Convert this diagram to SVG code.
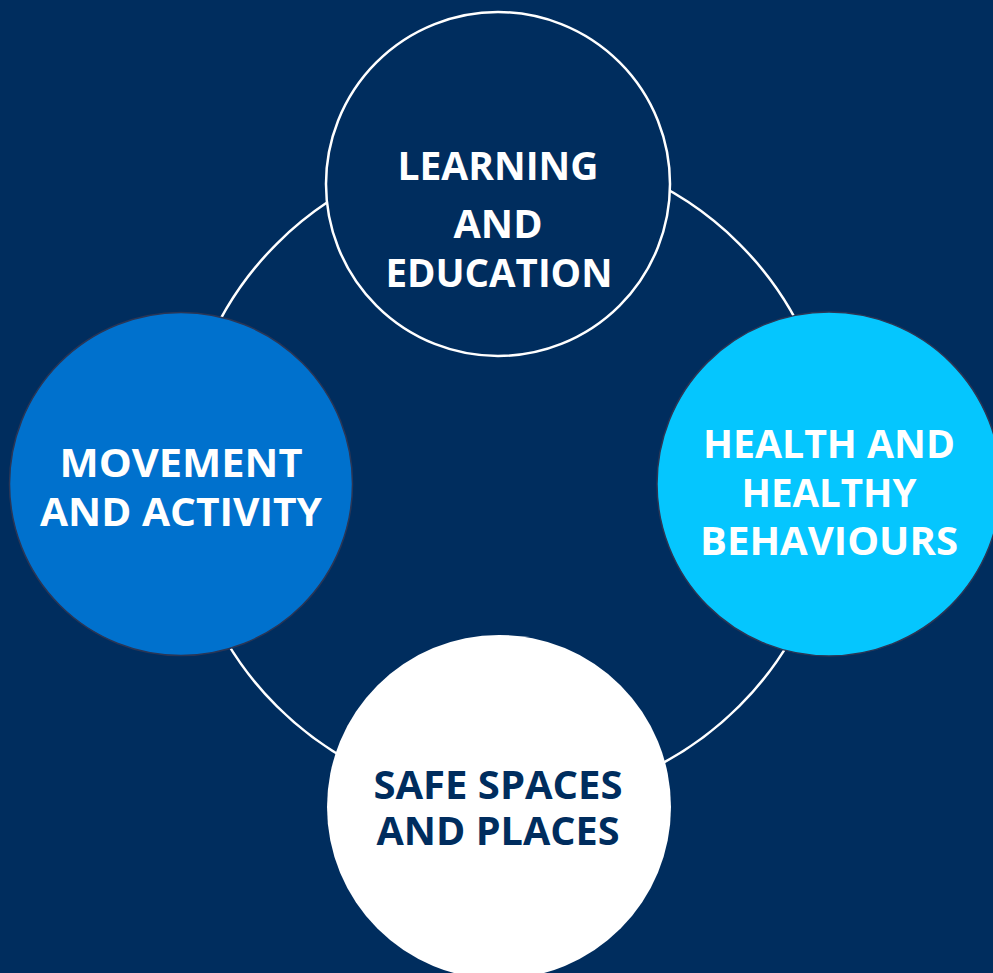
<svg xmlns="http://www.w3.org/2000/svg" width="993" height="973" viewBox="0 0 993 973">
<style>
.lbl{font-family:"Open Sans","Liberation Sans",sans-serif;font-weight:700;font-size:40px;text-anchor:middle}
.w{fill:#ffffff}
.n{fill:#002d5e}
.ring{fill:none;stroke:#ffffff;stroke-width:2.5}
.edge{stroke:#2a3656;stroke-width:1.5}
</style>
<rect width="993" height="973" fill="#002d5e"/>
<g id="connectors">
<circle class="ring" cx="508" cy="475" r="327"/>
</g>
<g id="learning">
<circle cx="498" cy="184" r="172" fill="#002d5e" stroke="#ffffff" stroke-width="2.5"/>
<text class="lbl w" x="498" y="180" textLength="201" lengthAdjust="spacingAndGlyphs">LEARNING</text>
<text class="lbl w" x="498" y="238" textLength="89" lengthAdjust="spacingAndGlyphs">AND</text>
<text class="lbl w" x="499" y="287" textLength="227" lengthAdjust="spacingAndGlyphs">EDUCATION</text>
</g>
<g id="movement">
<circle class="edge" cx="181" cy="484" r="171.5" fill="#0071cd"/>
<text class="lbl w" x="181" y="477" textLength="243" lengthAdjust="spacingAndGlyphs">MOVEMENT</text>
<text class="lbl w" x="181" y="526" textLength="282" lengthAdjust="spacingAndGlyphs">AND ACTIVITY</text>
</g>
<g id="health">
<circle class="edge" cx="829" cy="484" r="172" fill="#05c6fe"/>
<text class="lbl w" x="829" y="458" textLength="252" lengthAdjust="spacingAndGlyphs">HEALTH AND</text>
<text class="lbl w" x="829" y="507" textLength="175" lengthAdjust="spacingAndGlyphs">HEALTHY</text>
<text class="lbl w" x="829" y="555" textLength="258" lengthAdjust="spacingAndGlyphs">BEHAVIOURS</text>
</g>
<g id="safe">
<circle cx="499" cy="807" r="172" fill="#ffffff"/>
<text class="lbl n" x="498" y="799" textLength="249" lengthAdjust="spacingAndGlyphs">SAFE SPACES</text>
<text class="lbl n" x="498" y="845" textLength="243" lengthAdjust="spacingAndGlyphs">AND PLACES</text>
</g>
</svg>
